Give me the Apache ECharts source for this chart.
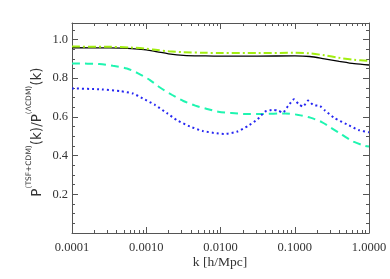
<!DOCTYPE html>
<html><head><meta charset="utf-8">
<script src="https://cdn.jsdelivr.net/npm/echarts@6/dist/echarts.min.js"></script>
<style>html,body{margin:0;padding:0;background:#fff}#c{width:390px;height:279px}</style>
</head><body><div id="c"></div>
<script>
// log10(k) positions and ratio values
const blackLogK = [-4, -3.5, -3.2, -3.0, -2.85, -2.7, -2.5, -2.2, -2, -1.5, -1, -0.8, -0.6, -0.4, -0.2, 0];
const blackVal  = [0.957, 0.956, 0.953, 0.946, 0.936, 0.926, 0.918, 0.915, 0.914, 0.914, 0.915, 0.912, 0.900, 0.887, 0.875, 0.868];
const greenLogK = [-4, -3.5, -3.2, -3.0, -2.85, -2.7, -2.5, -2.2, -2, -1.5, -1, -0.8, -0.6, -0.4, -0.2, 0];
const greenVal  = [0.963, 0.962, 0.958, 0.952, 0.945, 0.939, 0.934, 0.931, 0.930, 0.930, 0.931, 0.928, 0.918, 0.905, 0.895, 0.889];
const tealLogK = [-4, -3.63, -3.45, -3.26, -3.11, -2.95, -2.82, -2.65, -2.5, -2.34, -2.18, -2.03, -1.85, -1.67, -1.44, -1.13, -0.95, -0.79, -0.63, -0.5, -0.36, -0.21, -0.05, 0];
const tealVal  = [0.876, 0.873, 0.864, 0.850, 0.825, 0.790, 0.753, 0.713, 0.682, 0.658, 0.641, 0.627, 0.620, 0.615, 0.615, 0.618, 0.610, 0.596, 0.572, 0.541, 0.507, 0.472, 0.450, 0.447];
const blueLogK = [-4, -3.6, -3.35, -3.18, -3.05, -2.88, -2.72, -2.59, -2.41, -2.24, -2.05, -1.95, -1.78, -1.63, -1.5, -1.4, -1.29, -1.22, -1.16, -1.09, -1.01, -0.95, -0.89, -0.82, -0.75, -0.66, -0.59, -0.46, -0.3, -0.14, 0];
const blueVal  = [0.747, 0.742, 0.733, 0.721, 0.696, 0.661, 0.619, 0.584, 0.550, 0.527, 0.515, 0.512, 0.523, 0.553, 0.588, 0.627, 0.636, 0.632, 0.622, 0.656, 0.691, 0.667, 0.653, 0.684, 0.661, 0.656, 0.632, 0.593, 0.562, 0.532, 0.520];
const xMajor = [-4, -3, -2, -1, 0];
const xLabels = ['0.0001', '0.0010', '0.0100', '0.1000', '1.0000'];
const yMajor = [0.2, 0.4, 0.6, 0.8, 1.0];
const yMin = 0, yMax = 1.085;

const xMinor = [];
for (let d = -4; d < 0; d++) for (let m = 2; m <= 9; m++) xMinor.push(d + Math.log10(m));
const yMinor = [];
for (let v = 0.05; v < yMax; v += 0.05) yMinor.push(+v.toFixed(2));

const pair = (xs, ys) => xs.map((x, i) => [x, ys[i]]);
const frame = '#555';
const serif = '"Liberation Serif", "DejaVu Serif", serif';

function xAx(pos, ticks, len, labels, line) {
  return {
    type: 'value', position: pos, min: -4, max: 0,
    axisLine: { show: line, onZero: false, lineStyle: { color: frame, width: 1 } },
    axisTick: { show: true, inside: true, length: len, customValues: ticks, lineStyle: { color: frame } },
    axisLabel: labels ? { show: true, customValues: xMajor, margin: 8, color: '#333', fontFamily: serif, fontSize: 12.5,
      formatter: v => xLabels[xMajor.indexOf(Math.round(v))] } : { show: false },
    splitLine: { show: false }
  };
}
function yAx(pos, ticks, len, labels, line) {
  return {
    type: 'value', position: pos, min: yMin, max: yMax,
    axisLine: { show: line, onZero: false, lineStyle: { color: frame, width: 1 } },
    axisTick: { show: true, inside: true, length: len, customValues: ticks, lineStyle: { color: frame } },
    axisLabel: labels ? { show: true, customValues: yMajor, margin: 4, color: '#333', fontFamily: serif, fontSize: 12.5,
      formatter: v => v.toFixed(1) } : { show: false },
    splitLine: { show: false }
  };
}

const chart = echarts.init(document.getElementById('c'), null, { renderer: 'canvas' });
chart.setOption({
  animation: false,
  backgroundColor: '#fff',
  grid: { left: 72, right: 21, top: 23, bottom: 46, containLabel: false },
  xAxis: [
    xAx('bottom', xMajor, 6, true, true),
    xAx('bottom', xMinor, 3, false, false),
    xAx('top', xMajor, 6, false, true),
    xAx('top', xMinor, 3, false, false)
  ],
  yAxis: [
    yAx('left', yMajor, 6, true, true),
    yAx('left', yMinor, 3, false, false),
    yAx('right', yMajor, 6, false, true),
    yAx('right', yMinor, 3, false, false)
  ],
  series: [
    { type: 'line', data: pair(blackLogK, blackVal), smooth: 0.3, symbol: 'none',
      lineStyle: { color: '#000', width: 1.3 } },
    { type: 'line', data: pair(greenLogK, greenVal), smooth: 0.3, symbol: 'none',
      lineStyle: { color: '#a2ee10', width: 2, type: [8, 3, 2, 3] } },
    { type: 'line', data: pair(tealLogK, tealVal), smooth: 0.3, symbol: 'none',
      lineStyle: { color: '#1ff5b0', width: 2, type: [8, 5] } },
    { type: 'line', data: pair(blueLogK, blueVal), smooth: 0.2, symbol: 'none',
      lineStyle: { color: '#2626f2', width: 2, type: [2, 3] } }
  ],
  graphic: [
    { type: 'text', x: 220, y: 262, style: { text: 'k [h/Mpc]', font: '13.5px ' + serif, fill: '#333', align: 'center', verticalAlign: 'middle' } },
    { type: 'text', x: 35, y: 132, rotation: Math.PI / 2,
      style: {
        text: '{p|P}{s|(TSF+CDM)}{p|(k)/P}{s|(ΛCDM)}{p|(k)}',
        align: 'center', verticalAlign: 'middle',
        rich: {
          p: { fontFamily: '"DejaVu Sans", sans-serif', fontSize: 13.5, fill: '#333', lineHeight: 19, verticalAlign: 'bottom' },
          s: { fontFamily: '"DejaVu Sans", sans-serif', fontSize: 7.5, fill: '#333', lineHeight: 19, verticalAlign: 'top' }
        }
      } }
  ]
});
</script></body></html>
